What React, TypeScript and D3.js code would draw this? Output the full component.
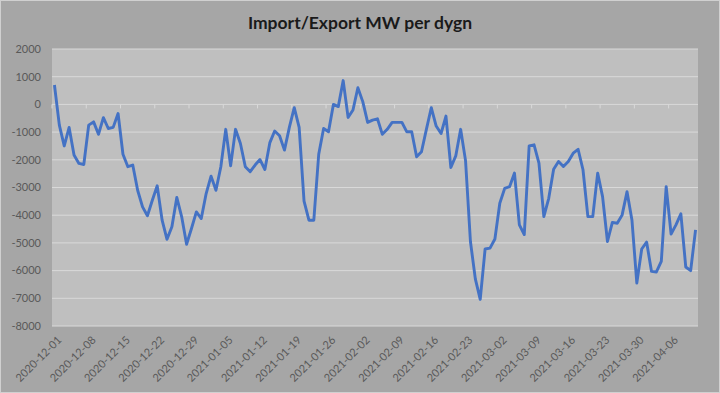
import React from 'react';
import * as d3 from 'd3';

// daily values, MW
const dec = [700, -750, -1500, -830, -1830, -2130, -2170, -750, -630, -1080, -480, -870, -830, -330, -1800, -2250, -2190, -3100, -3700, -4020, -3460, -2940, -4180, -4870, -4420, -3360, -4060, -5050, -4480, -3880, -4120];
const jan = [-3220, -2590, -3100, -2250, -900, -2220, -900, -1410, -2250, -2430, -2190, -1990, -2350, -1390, -960, -1130, -1650, -830, -120, -830, -3490, -4180, -4180, -1800, -870, -990, 0, -80, 860, -470, -200];
const feb = [600, 100, -650, -570, -520, -1080, -900, -650, -650, -650, -990, -990, -1890, -1710, -900, -120, -780, -1050, -420, -2280, -1860, -900, -2030, -4950, -6300, -7040, -5220, -5190];
const mar = [-4860, -3570, -3030, -2970, -2480, -4350, -4700, -1500, -1460, -2120, -4050, -3390, -2340, -2060, -2240, -2060, -1760, -1620, -2360, -4050, -4050, -2480, -3330, -4950, -4260, -4290, -3990, -3150, -4170, -6450, -5220];
const apr = [-4970, -6030, -6050, -5670, -2970, -4680, -4350, -3950, -5870, -6000, -4530];

const yTicks = [2000, 1000, 0, -1000, -2000, -3000, -4000, -5000, -6000, -7000, -8000];
const title = 'Import/Export MW per dygn';

const fmt = d3.timeFormat('%Y-%m-%d');
const values = [...dec, ...jan, ...feb, ...mar, ...apr];
const days = d3.timeDay.range(new Date(2020, 11, 1), new Date(2021, 3, 12)).map(fmt);
const data = days.map((d, i) => ({ date: d, value: values[i] }));
const labelDays = days.filter((_, i) => i % 7 === 0);

const W = 720;
const H = 393;
const plot = { left: 52, right: 698, top: 49, bottom: 326 };

const App: React.FC = () => {
  const x = d3.scaleBand<string>().domain(days).range([plot.left, plot.right]).padding(0);
  const y = d3.scaleLinear().domain([-8000, 2000]).range([plot.bottom, plot.top]);
  const cx = (d: string) => (x(d) as number) + x.bandwidth() / 2;

  const line = d3.line<{ date: string; value: number }>()
    .x(d => cx(d.date))
    .y(d => y(d.value));

  const font = 'Lato, "Open Sans", sans-serif';

  return (
    <svg width={W} height={H} style={{ position: 'absolute', left: 0, top: 0, display: 'block' }}>
      <rect x={0} y={0} width={W} height={H} fill="#a6a6a6" />
      <rect x={0.5} y={0.5} width={W - 1} height={H - 1} fill="none" stroke="#d0d0d0" />
      <text x={W / 2} y={29} textAnchor="middle" fontFamily={font} fontWeight="bold" fontSize={17.5} fill="#1a1a1a">
        {title}
      </text>

      <rect x={plot.left} y={plot.top} width={plot.right - plot.left} height={plot.bottom - plot.top} fill="#bfbfbf" />

      {yTicks.map(t => (
        <g key={t}>
          <line x1={plot.left} x2={plot.right} y1={y(t)} y2={y(t)} stroke="#d9d9d9" strokeWidth={1} />
          <text x={41} y={y(t)} dy="0.35em" textAnchor="end" fontFamily={font} fontSize={11} fill="#595959">
            {t}
          </text>
        </g>
      ))}

      {/* tick marks on the zero line, between categories */}
      {labelDays.map(d => (
        <line key={d} x1={x(d)} x2={x(d)} y1={y(0)} y2={y(0) + 4} stroke="#d9d9d9" />
      ))}

      <path d={line(data) || ''} fill="none" stroke="#4472c4" strokeWidth={2.9} strokeLinejoin="round" />

      {labelDays.map(d => (
        <text
          key={'l' + d}
          transform={`translate(${cx(d) + 5},${plot.bottom + 12}) rotate(-45)`}
          textAnchor="end"
          dy="0.35em"
          fontFamily={font}
          fontSize={11}
          fill="#595959"
        >
          {d}
        </text>
      ))}
    </svg>
  );
};

export default App;
